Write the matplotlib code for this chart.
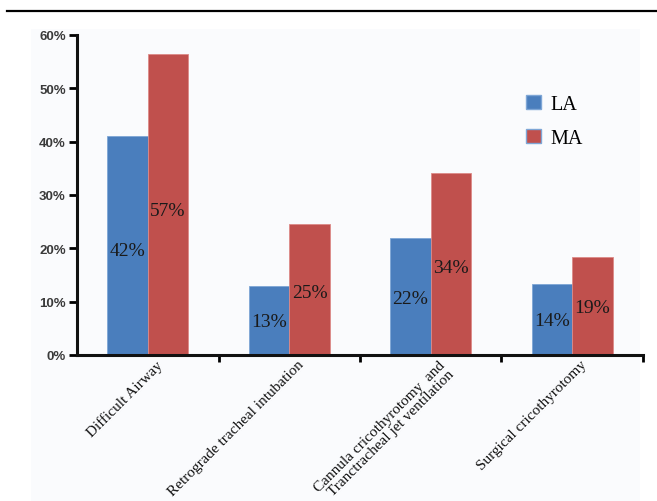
import matplotlib
matplotlib.use("Agg")
import matplotlib.pyplot as plt
import matplotlib.transforms as mtransforms
from matplotlib.patches import Patch, Rectangle
from matplotlib.lines import Line2D
import numpy as np

categories = ["Difficult Airway", "Retrograde tracheal intubation",
              "Cannula cricothyrotomy  and\nTranctracheal jet ventilation",
              "Surgical cricothyrotomy"]
la_values = [41.0, 13.0, 21.9, 13.3]
ma_values = [56.4, 24.6, 34.1, 18.4]
la_labels = ["42%", "13%", "22%", "14%"]
ma_labels = ["57%", "25%", "34%", "19%"]
series_names = ["LA", "MA"]
yticks = [0, 10, 20, 30, 40, 50, 60]

blue = "#4a7ebd"
red = "#c0504d"

fig = plt.figure(figsize=(6.57, 5.02), dpi=100)
# faint panel and top rule
fig.patches.append(Rectangle((31/657, 0), (640-31)/657, (502-30)/502,
                             transform=fig.transFigure, facecolor="#fafbfd",
                             edgecolor="none", zorder=-10))
fig.lines.append(Line2D([7/657, 1.0], [1-12/502, 1-12/502], transform=fig.transFigure,
                        color="black", lw=1.6))

ax = fig.add_axes([77/657, 1-356/502, (643-77)/657, (356-36)/502])
ax.set_facecolor("none")

x = np.arange(len(categories))
w = 0.286
ax.bar(x - w/2, la_values, w, color=blue, edgecolor="#7ea6d6", lw=0.6, label=series_names[0], zorder=2)
ax.bar(x + w/2, ma_values, w, color=red, edgecolor="#dc8a88", lw=0.6, label=series_names[1], zorder=2)

for xi, v, t in zip(x - w/2, la_values, la_labels):
    ax.text(xi, v*0.48, t, ha="center", va="center", fontsize=14,
            family="Liberation Serif", color="#1a1a1a", zorder=3)
for xi, v, t in zip(x + w/2, ma_values, ma_labels):
    ax.text(xi, v*0.48, t, ha="center", va="center", fontsize=14,
            family="Liberation Serif", color="#1a1a1a", zorder=3)

ax.set_xlim(-0.5, len(categories) - 0.5)
ax.set_ylim(0, 60)

for s in ["top", "right"]:
    ax.spines[s].set_visible(False)
for s in ["left", "bottom"]:
    ax.spines[s].set_linewidth(2.2)
    ax.spines[s].set_color("#111111")

ax.set_yticks(yticks)
ax.set_yticklabels([f"{t}%" for t in yticks], family="Liberation Sans",
                   fontsize=9.5, color="#3a3a3a", fontweight="bold")
ax.tick_params(axis="y", direction="out", length=6, width=2, pad=2)

# category boundary ticks (minor) and rotated labels (major)
ax.set_xticks(x + 0.5, minor=True)
ax.tick_params(axis="x", which="minor", direction="out", length=5, width=2)
ax.set_xticks(x)
ax.set_xticklabels(categories, rotation=45, ha="right", va="top",
                   rotation_mode="anchor", family="Liberation Serif",
                   fontsize=11, color="#111111", linespacing=0.95)
ax.tick_params(axis="x", which="major", length=0, pad=2)
offset = mtransforms.ScaledTranslation(0.08, 0, fig.dpi_scale_trans)
for lbl in ax.get_xticklabels():
    lbl.set_transform(lbl.get_transform() + offset)

handles = [Patch(facecolor=blue, edgecolor="#7ea6d6"), Patch(facecolor=red, edgecolor="#7ea6d6")]
ax.legend(handles, series_names, loc="upper left", bbox_to_anchor=(0.762, 0.868),
          frameon=False, prop={"family": "Liberation Serif", "size": 14.5},
          handlelength=0.7, handleheight=0.7, handletextpad=0.5, labelspacing=0.7)

fig.savefig("out.png", dpi=100)
